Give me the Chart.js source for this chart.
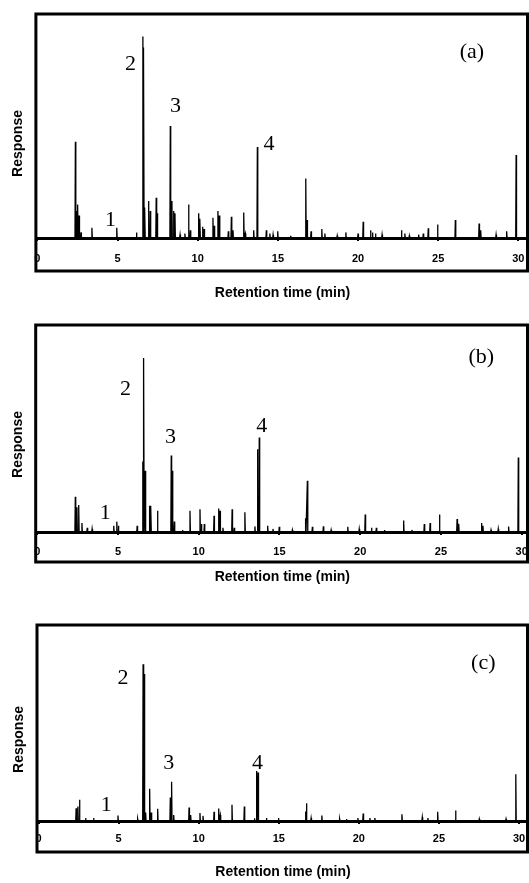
<!DOCTYPE html>
<html>
<head>
<meta charset="utf-8">
<script src="https://cdn.jsdelivr.net/npm/chart.js@4.4.1/dist/chart.umd.min.js"></script>
<style>
  html, body { margin: 0; padding: 0; background: #fff; overflow: hidden; width: 529px; height: 883px; }
  .panel { position: absolute; left: 0; width: 560px; }
</style>
</head>
<body>
<div class="panel" style="top:0px;height:306px"><canvas id="chartA" width="560" height="306"></canvas></div>
<div class="panel" style="top:310px;height:280px"><canvas id="chartB" width="560" height="280"></canvas></div>
<div class="panel" style="top:610px;height:275px"><canvas id="chartC" width="560" height="275"></canvas></div>
<script>
// x axis ticks (min)
const TICK_VALUES = [0, 5, 10, 15, 20, 25, 30];

// (a) peak retention times (min) and heights (relative response, 100 = top of frame)
const timesA = [2.37, 2.45, 2.52, 2.6, 2.72, 3.4, 4.95, 6.18, 6.58, 6.63, 6.7, 6.93, 7.04, 7.41, 7.47,
  8.29, 8.39, 8.49, 8.58, 8.9, 9.2, 9.43, 9.54, 10.06, 10.14, 10.3, 10.4, 10.95, 11.03, 11.26, 11.35,
  11.91, 12.1, 12.2, 12.87, 12.97, 13.49, 13.72, 14.28, 14.5, 14.7, 14.99, 15.8, 16.74, 16.82, 17.07,
  17.74, 17.93, 18.7, 19.24, 20.0, 20.32, 20.78, 20.9, 21.09, 21.5, 22.71, 22.92, 23.2, 23.78, 24.07,
  24.38, 24.96, 26.07, 27.55, 27.65, 28.61, 29.27, 29.86];
const heightsA = [43, 12, 15, 10, 2.5, 4.6, 4.6, 2.5, 90, 85, 13.6, 16.5, 12, 18, 11,
  50, 16.5, 12, 11, 1.5, 2, 15, 3.5, 11, 8.6, 5, 4, 9, 5.5, 12, 10,
  3, 9.5, 3.5, 11.4, 2, 3.5, 40.6, 3.5, 2, 1.5, 3, 1, 26.6, 8, 3,
  4, 2, 1, 2.5, 2, 7.3, 3.5, 2.5, 2, 1.5, 3.5, 2, 1, 1.5, 2,
  4.3, 6, 8, 6.5, 3.5, 1.5, 3, 37];

// (b)
const timesB = [2.36, 2.46, 2.57, 2.77, 3.1, 3.4, 4.74, 4.93, 5.03, 6.19, 6.54, 6.6, 6.69, 6.96, 7.04,
  7.45, 8.3, 8.38, 8.49, 9.0, 9.46, 10.08, 10.17, 10.35, 10.95, 11.24, 11.32, 11.5, 12.07, 12.2, 12.86,
  13.48, 13.64, 13.75, 14.27, 14.6, 14.99, 15.8, 16.62, 16.73, 17.04, 17.72, 18.2, 19.23, 19.94, 20.31,
  20.7, 21.0, 21.5, 22.69, 23.2, 23.97, 24.33, 24.91, 26.0, 26.1, 27.51, 27.6, 28.1, 28.55, 29.19, 29.79];
const heightsB = [17, 12, 13, 4.3, 2, 1.5, 3, 5, 3, 3, 34, 84, 29.6, 12.7, 12.7,
  10.3, 37, 29.6, 5, 1, 10.3, 11, 3.9, 3.9, 7.9, 11.3, 10.3, 2, 11, 2, 9.5,
  2.7, 40, 45.7, 3, 1.5, 2.5, 1, 6.6, 24.8, 2.5, 2.7, 1, 2.5, 1.5, 8.4,
  2, 2, 1, 5.5, 1, 3.9, 4.3, 8.4, 6.3, 4, 4.3, 3, 1, 1.5, 2.6, 36];

// (c)
const timesC = [2.35, 2.46, 2.56, 2.94, 3.44, 4.96, 6.19, 6.53, 6.6, 6.69, 6.94, 7.04, 7.44, 8.23, 8.31,
  8.44, 9.4, 9.5, 10.08, 10.27, 10.96, 11.25, 11.35, 12.08, 12.85, 13.48, 13.62, 13.71, 14.23, 14.98,
  16.67, 16.73, 17.02, 17.69, 18.8, 19.23, 19.94, 20.27, 20.69, 21.0, 22.69, 23.96, 24.31, 24.92, 26.04,
  27.52, 29.19, 29.8];
const heightsC = [6.5, 7.4, 10.9, 1.5, 1.5, 2.8, 1, 80, 75, 4.3, 16.4, 4.3, 6.2, 12, 20,
  3, 6.9, 3, 4.1, 2.6, 4.7, 6.4, 3, 8.3, 7.4, 1.4, 25.5, 24.7, 1.5, 1.5,
  4.8, 9, 1.5, 2.8, 1, 1, 1.5, 3.8, 1.5, 1.5, 3.4, 1.9, 1.5, 4.7, 5.3,
  1, 1, 23.8];

// peak numbers and panel letter, placed in data units
const labelTextA = ['1', '2', '3', '4', '(a)'];
const labelTimesA = [4.56, 5.81, 8.62, 14.45, 27.1];
const labelHeightsA = [8, 77.7, 58.8, 42, 83];
const labelTextB = ['1', '2', '3', '4', '(b)'];
const labelTimesB = [4.22, 5.47, 8.26, 13.91, 27.5];
const labelHeightsB = [9, 69, 46, 50.9, 84.4];
const labelTextC = ['1', '2', '3', '4', '(c)'];
const labelTimesC = [4.23, 5.27, 8.13, 13.67, 27.77];
const labelHeightsC = [7.9, 72.9, 29.3, 29.5, 80.3];

// each peak becomes a narrow spike on the baseline
function trace(times, heights) {
  const pts = [];
  times.forEach((t, i) => {
    pts.push({ x: t - 0.025, y: 0 }, { x: t, y: heights[i] }, { x: t + 0.025, y: 0 });
  });
  return pts;
}

const framePlugin = {
  id: 'frame',
  afterDraw(chart, args, opts) {
    const { ctx, chartArea: a } = chart;
    const xs = chart.scales.x, ys = chart.scales.y;
    const left = a.left - 1.5, bottom = a.bottom + opts.depth;
    ctx.save();
    ctx.strokeStyle = '#000';
    ctx.lineWidth = 3;
    ctx.strokeRect(left, a.top, a.right - left, bottom - a.top);
    ctx.translate(left - 18, (a.top + bottom) / 2 + 1);
    ctx.rotate(-Math.PI / 2);
    ctx.font = 'bold 14px "Liberation Sans", Arial, sans-serif';
    ctx.fillStyle = '#000';
    ctx.textAlign = 'center';
    ctx.textBaseline = 'middle';
    ctx.fillText('Response', 0, 0);
    ctx.restore();

    ctx.save();
    ctx.font = '22px "Liberation Serif", "Times New Roman", serif';
    ctx.fillStyle = '#000';
    ctx.textAlign = 'center';
    ctx.textBaseline = 'middle';
    opts.text.forEach((s, i) => {
      ctx.fillText(s, xs.getPixelForValue(opts.times[i]), ys.getPixelForValue(opts.heights[i]));
    });
    ctx.restore();
  }
};

function makeChart(id, times, heights, lab, cfg) {
  return new Chart(document.getElementById(id), {
    type: 'line',
    data: {
      datasets: [{
        data: trace(times, heights),
        borderColor: '#000',
        borderWidth: 1.3,
        pointRadius: 0,
        tension: 0,
        fill: false
      }]
    },
    options: {
      responsive: false,
      animation: false,
      layout: { padding: { top: cfg.top, left: cfg.left, right: 32.5, bottom: 0 } },
      plugins: {
        legend: { display: false },
        tooltip: { enabled: false },
        frame: { depth: cfg.depth, text: lab[0], times: lab[1], heights: lab[2] }
      },
      scales: {
        x: {
          type: 'linear',
          min: 0,
          max: cfg.xMax,
          afterBuildTicks: (scale) => { scale.ticks = TICK_VALUES.map(v => ({ value: v })); },
          grid: { display: true, drawOnChartArea: false, drawTicks: true, tickLength: 3, color: '#000', lineWidth: 2 },
          border: { display: true, color: '#000', width: 3 },
          ticks: {
            color: '#000',
            padding: cfg.tickPad,
            maxRotation: 0,
            autoSkip: false,
            font: { family: '"Liberation Sans", Arial, sans-serif', size: 11, weight: 'bold' }
          },
          title: {
            display: true,
            text: 'Retention time (min)',
            color: '#000',
            padding: { top: cfg.titlePad, bottom: 4 },
            font: { family: '"Liberation Sans", Arial, sans-serif', size: 14, weight: 'bold' }
          }
        },
        y: { display: false, min: 0, max: 100 }
      }
    },
    plugins: [framePlugin]
  });
}

makeChart('chartA', timesA, heightsA, [labelTextA, labelTimesA, labelHeightsA],
  { top: 14, left: 37.4, xMax: 30.57, depth: 33, tickPad: 11.4, titlePad: 8.2 });
makeChart('chartB', timesB, heightsB, [labelTextB, labelTimesB, labelHeightsB],
  { top: 15, left: 37.2, xMax: 30.36, depth: 30, tickPad: 10.4, titlePad: 0.2 });
makeChart('chartC', timesC, heightsC, [labelTextC, labelTimesC, labelHeightsC],
  { top: 15, left: 38.5, xMax: 30.53, depth: 31, tickPad: 8.4, titlePad: 10.2 });
</script>
</body>
</html>
